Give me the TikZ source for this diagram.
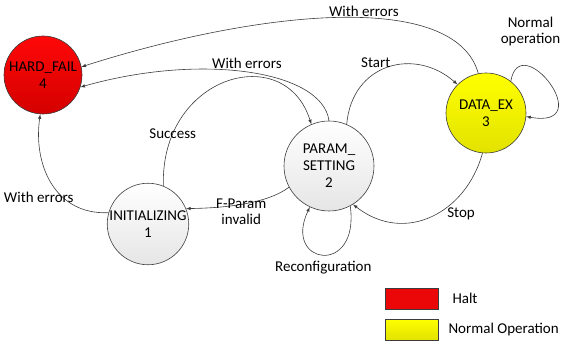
\documentclass[tikz,border=0pt]{standalone}
\usepackage{fontspec}
\setmainfont{Carlito}
\usepackage{tikz}
\usetikzlibrary{arrows,%
                shapes,positioning}

\definecolor{EdgeGray}{RGB}{60,60,60}
\definecolor{FailTop}{RGB}{255,8,8}
\definecolor{FailBottom}{RGB}{212,0,0}
\definecolor{RunTop}{RGB}{255,255,0}
\definecolor{RunBottom}{RGB}{226,226,0}

\begin{document}
\begin{tikzpicture}[x=1pt,y=1pt]
  \tikzset{StateStyle/.style = {shape          = circle,
                                 draw           = EdgeGray,
                                 line width     = 0.6pt,
                                 text           = black,
                                 align          = center,
                                 inner sep      = 0pt,
                                 minimum size   = #1,
                                 font           = \fontsize{15}{17}\selectfont}}
  \tikzset{IdleShade/.style = {top color=white, bottom color=black!10}}
  \tikzset{FailShade/.style = {top color=FailTop, bottom color=FailBottom}}
  \tikzset{RunShade/.style  = {top color=RunTop, bottom color=RunBottom}}
  \tikzset{LabelStyle/.style = {inner sep=1pt, align=center, text=black,
                                 font=\fontsize{15}{16}\selectfont}}
  \tikzset{LegendBox/.style = {draw=EdgeGray, line width=0.6pt, minimum width=53pt,
                                 minimum height=21pt, inner sep=0pt}}
  \useasboundingbox (0,0) rectangle (561,345);
  \begin{scope}[every path/.style={draw=EdgeGray, line width=0.6pt, -latex}]
	%%% ETATS %%%
	\node[StateStyle=80pt, IdleShade](init) at (148,121) {INITIALIZING\\1};
	\node[StateStyle=78pt, FailShade, on grid, above left=149pt and 105pt of init](hard){HARD\_FAIL\\4};
	\node[StateStyle=90pt, IdleShade, on grid, above right=58pt and 181pt of init](param){PARAM\_\\SETTING\\2};
	\node[StateStyle=80pt, RunShade, on grid, above right=53pt and 157pt of param](data){DATA\_EX\\3};
	%
	%%% TRANSITIONS %%%
	\draw(data.101) .. controls (455,355) and (260,335) .. node[LabelStyle, pos=0.44, above=0pt]{With errors} (hard.12);
	\draw(param.90) .. controls (322,275) and (200,292) .. node[LabelStyle, pos=0.5, above=2pt]{With errors} (hard.-18);
	\draw(init.68) .. controls (160,270) and (285,305) .. node[LabelStyle, pos=0.18]{Success} (param.113);
	\draw(init.164) .. controls (55,130) and (33,180) .. node[LabelStyle, pos=0.3, anchor=east, xshift=6pt, yshift=5pt]{With errors} (hard.-94);
	\draw(param.208) .. controls (265,140) and (220,137) .. node[LabelStyle, pos=0.5, yshift=-7pt]{F-Param\\invalid} (init.22);
	\draw(param.67) .. controls (352,282) and (415,298) .. node[LabelStyle, pos=0.4, above=4pt]{Start} (data.135);
	\draw(data.-95) .. controls (466,132) and (405,100) .. node[LabelStyle, pos=0.3, below=8pt, xshift=4pt]{Stop} (param.-58);
	% boucles
	\draw(data.52) .. controls (520,318) and (600,215) .. node[LabelStyle, pos=0.25, above=19pt, xshift=3pt]{Normal\\operation} (data.-5);
	\draw(param.-62) .. controls (360,68) and (282,80) .. node[LabelStyle, pos=0.5, below=5pt]{Reconfiguration} (param.-115);
  \end{scope}
	%
	%%% LEGENDE %%%
	\node[LegendBox, fill=FailTop!92!black](haltbox) at (411.5,46.5){};
	\node[LegendBox, top color=RunTop, bottom color=RunBottom, on grid, below=31pt of haltbox](normalbox){};
	\node[LabelStyle, right=13pt of haltbox](halt){Halt};
	\node[LabelStyle, right=9pt of normalbox](normal){Normal Operation};
\end{tikzpicture}
\end{document}
